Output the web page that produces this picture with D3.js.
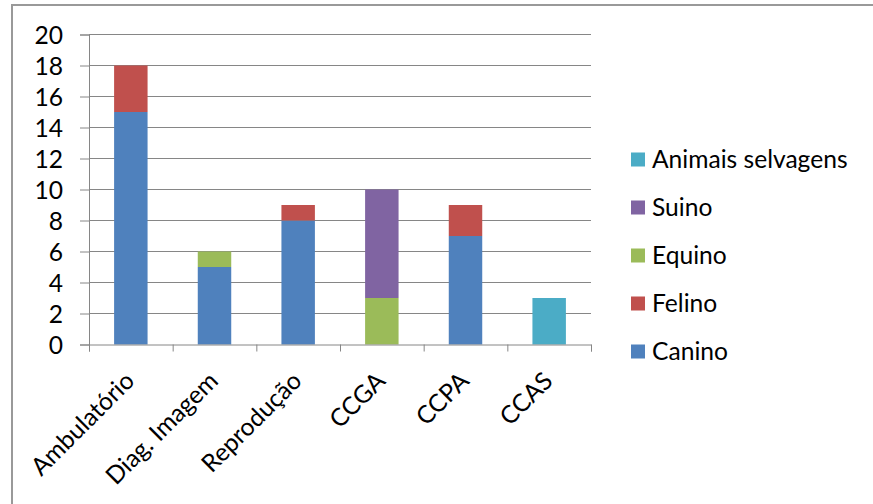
<!DOCTYPE html>
<html>
<head>
<meta charset="utf-8">
<script src="https://cdn.jsdelivr.net/npm/d3@7"></script>
<style>
  body { margin: 0; background: #fff; }
  svg text { font-family: Lato, "Open Sans", sans-serif; fill: #000; }
</style>
</head>
<body>
<svg id="chart" width="873" height="504"></svg>
<script>
const categories = ['Ambulatório', 'Diag. Imagem', 'Reprodução', 'CCGA', 'CCPA', 'CCAS']
const seriesNames = ['Canino', 'Felino', 'Equino', 'Suino', 'Animais selvagens']
const canino = [15, 5, 8, 0, 7, 0]
const felino = [3, 0, 1, 0, 2, 0]
const equino = [0, 1, 0, 3, 0, 0]
const suino = [0, 0, 0, 7, 0, 0]
const selvagens = [0, 0, 0, 0, 0, 3]
const yTicks = [0, 2, 4, 6, 8, 10, 12, 14, 16, 18, 20]
const colors = ['#4F81BD', '#C0504D', '#9BBB59', '#8064A2', '#4BACC6']

const values = [canino, felino, equino, suino, selvagens]
const rows = categories.map((c, i) => {
    const row = { cat: c }
    seriesNames.forEach((s, j) => { row[s] = values[j][i] })
    return row
})

const svg = d3.select('#chart')
const plotLeft = 89, plotRight = 591, plotTop = 34.5, plotBottom = 344.5
const fontSize = 24.6

// chart border (runs past the right and bottom edge)
svg.append('rect')
    .attr('x', 12).attr('y', 5)
    .attr('width', 900).attr('height', 520)
    .attr('fill', 'none')
    .attr('stroke', '#999')
    .attr('stroke-width', 2)

const y = d3.scaleLinear().domain([0, 20]).range([plotBottom, plotTop])
const x = d3.scaleBand().domain(categories).range([plotLeft, plotRight])
    .paddingInner(0.6).paddingOuter(0.3)
const xEdge = d3.scaleLinear().domain([0, categories.length]).range([plotLeft, plotRight])

// gridlines
svg.append('g')
    .selectAll('line')
    .data(yTicks.filter(t => t > 0))
    .enter().append('line')
    .attr('x1', plotLeft).attr('x2', plotRight)
    .attr('y1', d => y(d)).attr('y2', d => y(d))
    .attr('stroke', '#868686')
    .attr('stroke-width', 1)

// bars
const stacked = d3.stack().keys(seriesNames)(rows)
svg.append('g')
    .selectAll('g')
    .data(stacked)
    .enter().append('g')
    .attr('fill', (d, i) => colors[i])
    .selectAll('rect')
    .data(d => d.filter(p => p[1] > p[0]))
    .enter().append('rect')
    .attr('x', d => x(d.data.cat))
    .attr('width', x.bandwidth())
    .attr('y', d => y(d[1]))
    .attr('height', d => y(d[0]) - y(d[1]))

// y axis
const yAxis = svg.append('g')
    .attr('transform', `translate(${plotLeft},0)`)
    .call(d3.axisLeft(y).tickValues(yTicks).tickSize(9).tickPadding(17))
yAxis.select('.domain').attr('stroke', '#868686')
yAxis.selectAll('.tick line').attr('stroke', '#868686')
yAxis.selectAll('.tick text')
    .attr('font-size', fontSize)
    .attr('fill', '#000')
    .attr('dy', '0.36em')

// x axis with ticks between categories
const xAxis = svg.append('g')
    .attr('transform', `translate(0,${plotBottom})`)
    .call(d3.axisBottom(xEdge).tickValues(d3.range(categories.length + 1)).tickSize(7).tickFormat(''))
xAxis.select('.domain').attr('stroke', '#868686')
xAxis.selectAll('.tick line').attr('stroke', '#868686')

svg.append('g')
    .selectAll('text')
    .data(categories)
    .enter().append('text')
    .attr('transform', d => `translate(${x(d) + x.bandwidth() / 2 + 5},${plotBottom + 38}) rotate(-45)`)
    .attr('text-anchor', 'end')
    .attr('font-size', fontSize)
    .text(d => d)

// legend, top entry is the last series
const legendItems = seriesNames.map((s, i) => ({ name: s, color: colors[i] })).reverse()
const legend = svg.append('g')
    .selectAll('g')
    .data(legendItems)
    .enter().append('g')
    .attr('transform', (d, i) => `translate(631,${159.5 + i * 48})`)
legend.append('rect')
    .attr('x', 0).attr('y', -7)
    .attr('width', 14).attr('height', 14)
    .attr('fill', d => d.color)
legend.append('text')
    .attr('x', 21)
    .attr('dy', '0.36em')
    .attr('font-size', fontSize)
    .text(d => d.name)
</script>
</body>
</html>
